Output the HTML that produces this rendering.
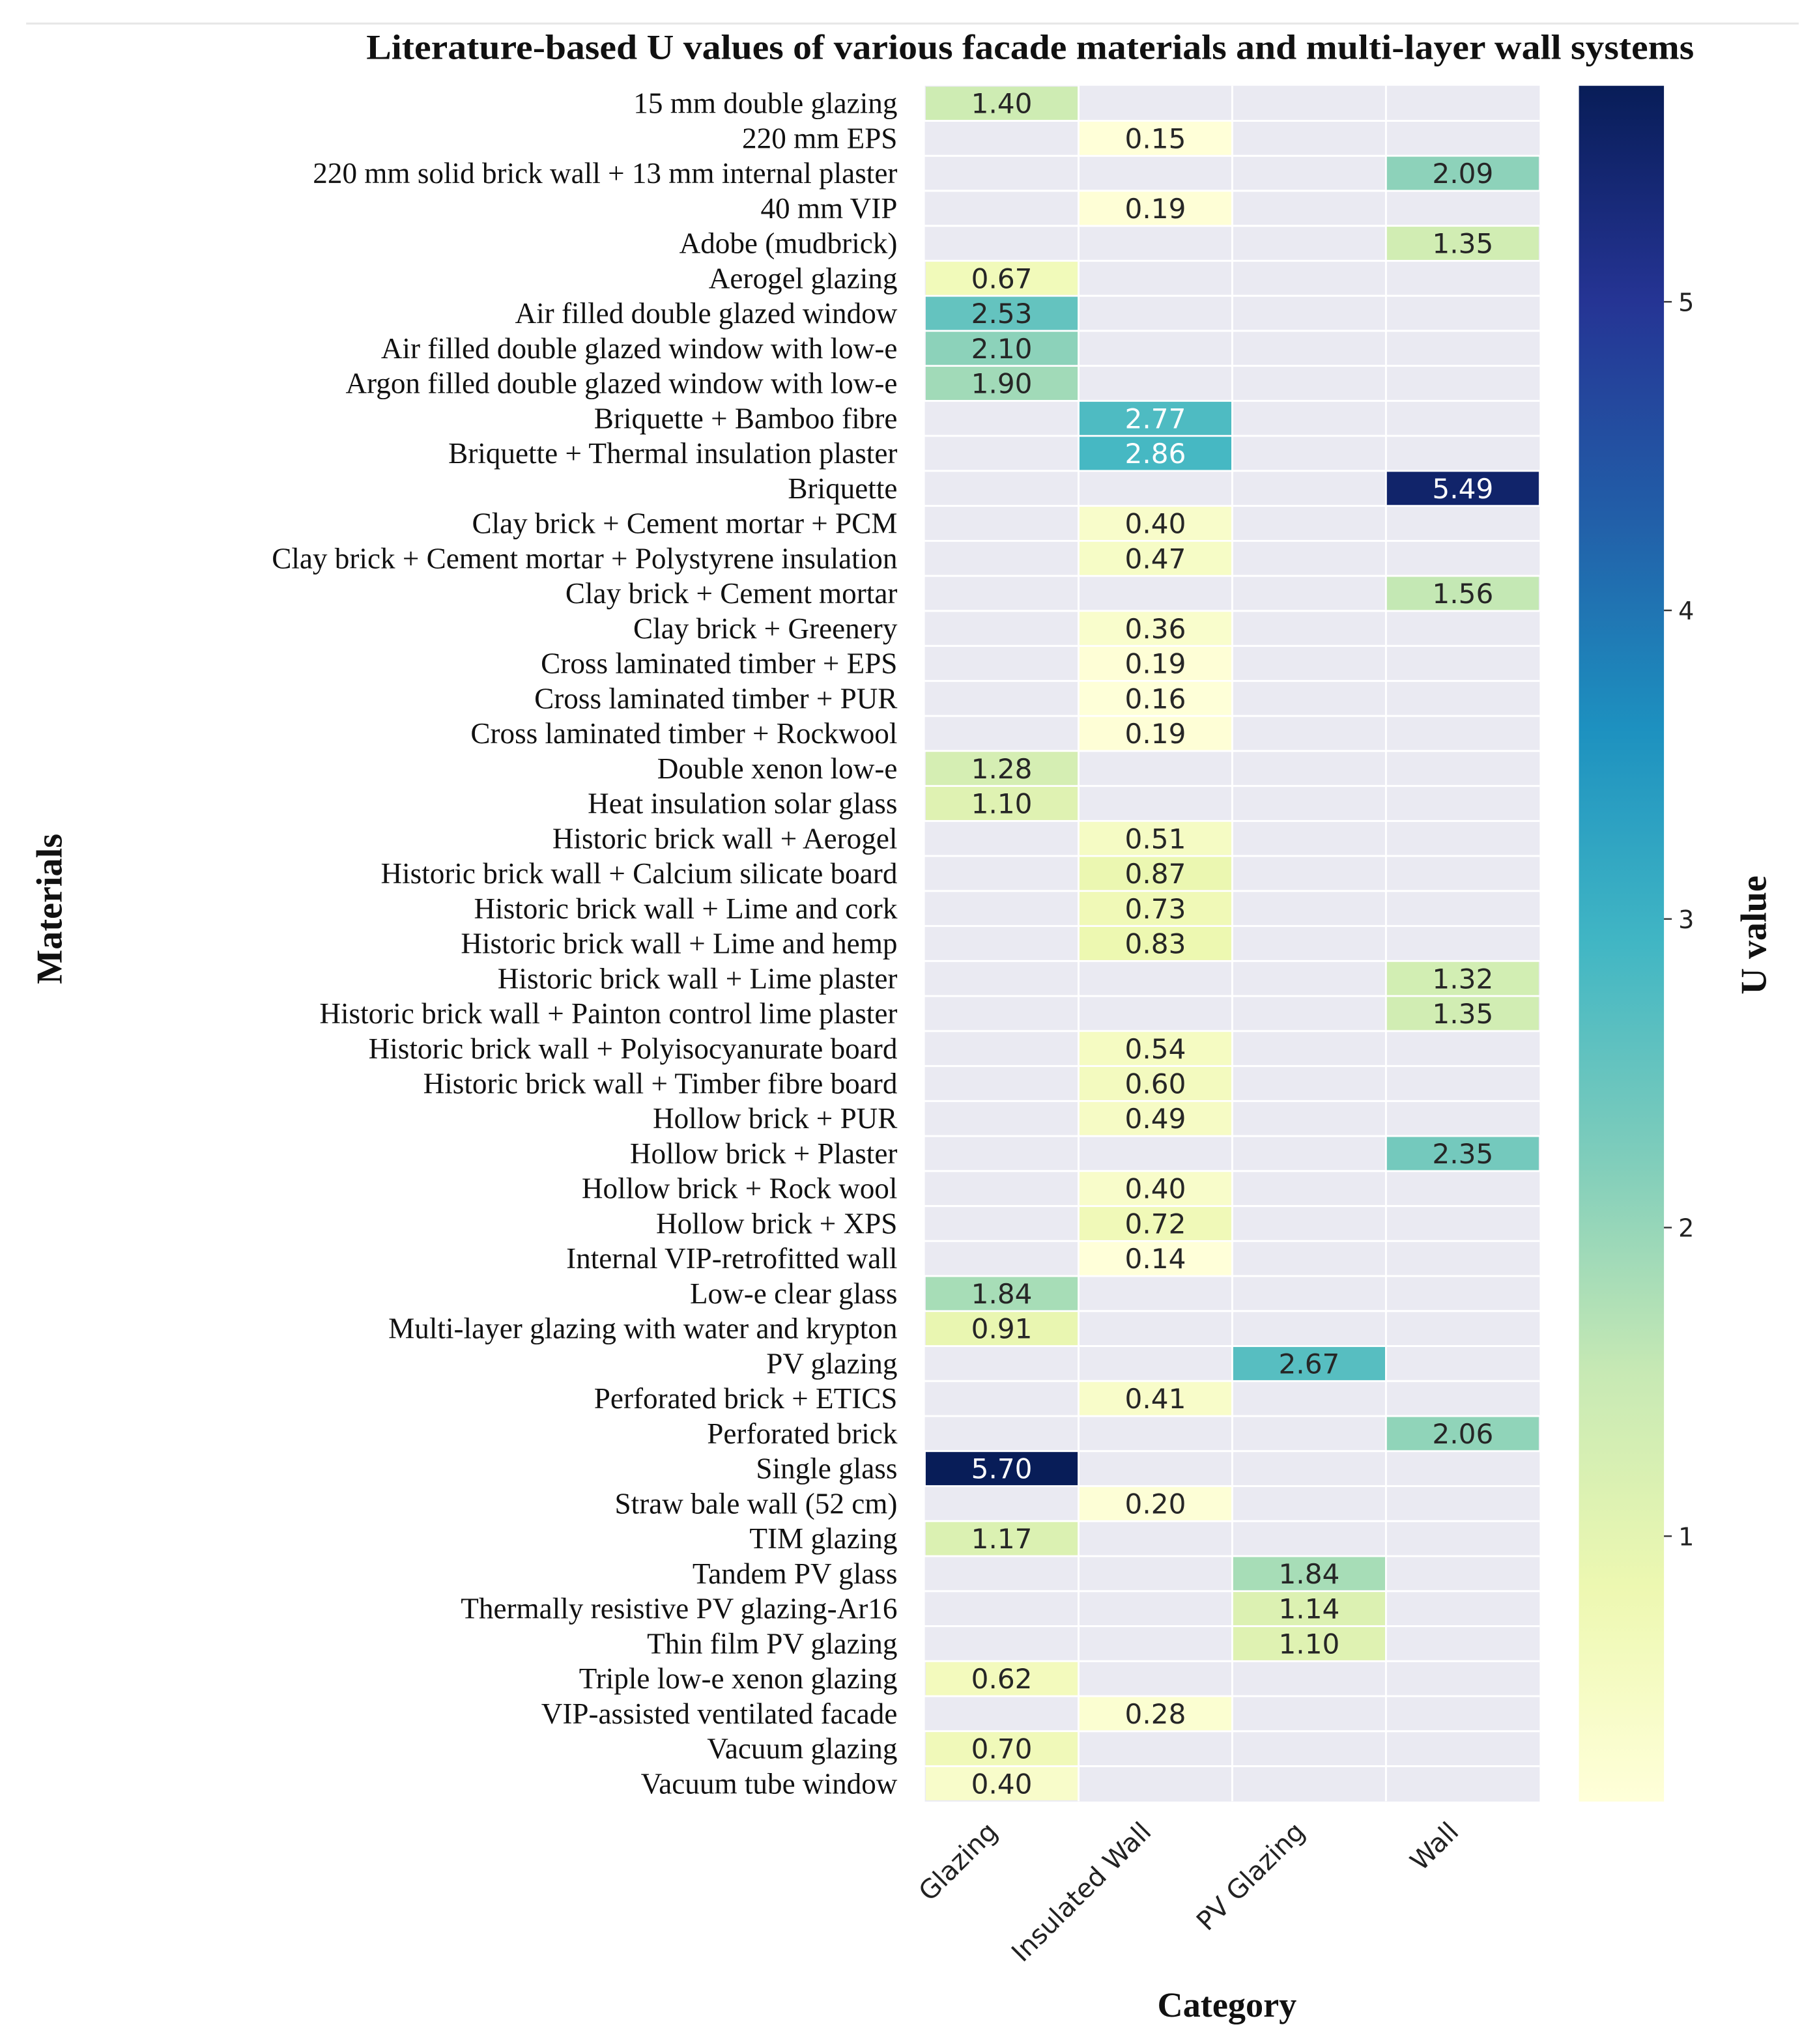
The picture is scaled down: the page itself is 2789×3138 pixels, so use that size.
<!DOCTYPE html>
<html><head><meta charset="utf-8"><style>
html,body{margin:0;padding:0;background:#fff;}
svg{display:block;}
.rl{font-family:"Liberation Serif",serif;font-size:22.5px;fill:#111;}
.an{font-family:"DejaVu Sans","Liberation Sans",sans-serif;font-size:21px;}
.xt{font-family:"DejaVu Sans","Liberation Sans",sans-serif;font-size:20px;fill:#222;}
.ct{font-family:"DejaVu Sans","Liberation Sans",sans-serif;font-size:19px;fill:#222;}
</style></head><body>
<svg id="chart" width="2789" height="3138" viewBox="0 0 1389 1563" preserveAspectRatio="none" xmlns="http://www.w3.org/2000/svg">
<defs>
<linearGradient id="cbg" x1="0" y1="1" x2="0" y2="0">
<stop offset="0" stop-color="#ffffd9"/><stop offset="0.125" stop-color="#edf8b1"/><stop offset="0.25" stop-color="#c7e9b4"/><stop offset="0.375" stop-color="#7fcdbb"/><stop offset="0.5" stop-color="#41b6c4"/><stop offset="0.625" stop-color="#1d91c0"/><stop offset="0.75" stop-color="#225ea8"/><stop offset="0.875" stop-color="#253494"/><stop offset="1" stop-color="#081d58"/>
</linearGradient>
</defs>
<line x1="20" y1="18" x2="1375" y2="18" stroke="#e6e6e6" stroke-width="1.5"/>
<text x="280" y="45" textLength="1015" lengthAdjust="spacingAndGlyphs" font-family="Liberation Serif,serif" font-weight="bold" font-size="27" fill="#111">Literature-based U values of various facade materials and multi-layer wall systems</text>
<text transform="translate(47,695) rotate(-90)" text-anchor="middle" font-family="Liberation Serif,serif" font-weight="bold" font-size="28" fill="#111">Materials</text>
<text x="938" y="1542" text-anchor="middle" font-family="Liberation Serif,serif" font-weight="bold" font-size="27" fill="#111">Category</text>
<text transform="translate(1350,715) rotate(-90)" text-anchor="middle" font-family="Liberation Serif,serif" font-weight="bold" font-size="28" fill="#111">U value</text>
<rect x="707" y="65.6" width="470" height="1312" fill="#eaeaf2"/>
<g id="cells"></g><g id="labels"></g><g id="xticks"></g>
<rect x="1207" y="65.6" width="65" height="1312" fill="url(#cbg)"/>
<g id="cticks"></g>
</svg>
<script>
const categories = ["Glazing","Insulated Wall","PV Glazing","Wall"];
const materials = ["15 mm double glazing","220 mm EPS","220 mm solid brick wall + 13 mm internal plaster","40 mm VIP","Adobe (mudbrick)","Aerogel glazing","Air filled double glazed window","Air filled double glazed window with low-e","Argon filled double glazed window with low-e","Briquette + Bamboo fibre","Briquette + Thermal insulation plaster","Briquette","Clay brick + Cement mortar + PCM","Clay brick + Cement mortar + Polystyrene insulation","Clay brick + Cement mortar","Clay brick + Greenery","Cross laminated timber + EPS","Cross laminated timber + PUR","Cross laminated timber + Rockwool","Double xenon low-e","Heat insulation solar glass","Historic brick wall + Aerogel","Historic brick wall + Calcium silicate board","Historic brick wall + Lime and cork","Historic brick wall + Lime and hemp","Historic brick wall + Lime plaster","Historic brick wall + Painton control lime plaster","Historic brick wall + Polyisocyanurate board","Historic brick wall + Timber fibre board","Hollow brick + PUR","Hollow brick + Plaster","Hollow brick + Rock wool","Hollow brick + XPS","Internal VIP-retrofitted wall","Low-e clear glass","Multi-layer glazing with water and krypton","PV glazing","Perforated brick + ETICS","Perforated brick","Single glass","Straw bale wall (52 cm)","TIM glazing","Tandem PV glass","Thermally resistive PV glazing-Ar16","Thin film PV glazing","Triple low-e xenon glazing","VIP-assisted ventilated facade","Vacuum glazing","Vacuum tube window"];
const materialCategory = [0,1,3,1,3,0,0,0,0,1,1,3,1,1,3,1,1,1,1,0,0,1,1,1,1,3,3,1,1,1,3,1,1,1,0,0,2,1,3,0,1,0,2,2,2,0,1,0,0];
const uValues = [1.40,0.15,2.09,0.19,1.35,0.67,2.53,2.10,1.90,2.77,2.86,5.49,0.40,0.47,1.56,0.36,0.19,0.16,0.19,1.28,1.10,0.51,0.87,0.73,0.83,1.32,1.35,0.54,0.60,0.49,2.35,0.40,0.72,0.14,1.84,0.91,2.67,0.41,2.06,5.70,0.20,1.17,1.84,1.14,1.10,0.62,0.28,0.70,0.40];
const colorTicks = [1,2,3,4,5];
const vmin = 0.14, vmax = 5.70;
const X0=707, CW=117.5, Y0=65.6, RH=26.77, CBY0=65.6, CBH=1312;
const stops=["#ffffd9","#edf8b1","#c7e9b4","#7fcdbb","#41b6c4","#1d91c0","#225ea8","#253494","#081d58"];
function hex(c){return [1,3,5].map(i=>parseInt(c.substr(i,2),16));}
function cmap(v){let t=Math.max(0,Math.min(1,(v-vmin)/(vmax-vmin)))*8;let i=Math.min(7,Math.floor(t));let f=t-i;let a=hex(stops[i]),b=hex(stops[i+1]);return "rgb("+a.map((x,k)=>Math.round(x+(b[k]-x)*f)).join(",")+")";}
function xPos(c){return X0+c*CW;}
function yPos(r){return Y0+r*RH;}
function cbY(v){return CBY0+CBH*(1-(v-vmin)/(vmax-vmin));}
const NS="http://www.w3.org/2000/svg";
function mk(t,a){const e=document.createElementNS(NS,t);for(const k in a)e.setAttribute(k,a[k]);return e;}
const gC=document.getElementById('cells'),gL=document.getElementById('labels'),gX=document.getElementById('xticks'),gT=document.getElementById('cticks');
for(let c=1;c<categories.length;c++){const l=mk('line',{x1:xPos(c),x2:xPos(c),y1:Y0,y2:Y0+RH*materials.length,stroke:'#fff','stroke-width':1.5});

gC.appendChild(l);}
for(let r=1;r<materials.length;r++){const l=mk('line',{x1:X0,x2:X0+4*CW,y1:yPos(r),y2:yPos(r),stroke:'#fff','stroke-width':1.5});

gC.appendChild(l);}
materials.forEach((m,r)=>{
 const c=materialCategory[r],v=uValues[r];
 const rc=mk('rect',{x:xPos(c)+0.7,y:yPos(r)+0.7,width:CW-1.4,height:RH-1.4,fill:cmap(v)});
 
 
 gC.appendChild(rc);
 const tx=mk('text',{x:xPos(c)+CW/2,y:yPos(r)+RH/2+7.5,'text-anchor':'middle','class':'an',fill:v>2.7?'#fff':'#262626'});
 tx.textContent=v.toFixed(2);
 
 
 gC.appendChild(tx);
 const lb=mk('text',{x:686,y:yPos(r)+RH/2+7.5,'text-anchor':'end','class':'rl'});
 lb.textContent=m;
 
 
 gL.appendChild(lb);
});
categories.forEach((c,i)=>{
 const cx=xPos(i)+CW/2-12,cy=1392;
 const t=mk('text',{transform:'translate('+cx+','+cy+') rotate(-45)','text-anchor':'end','class':'xt',dy:'14'});
 t.textContent=c;
 
 
 gX.appendChild(t);
});
colorTicks.forEach(v=>{
 const y=cbY(v);
 const l=mk('line',{x1:1272,x2:1278,y1:y,y2:y,stroke:'#333','stroke-width':1.2});
 
 
 gT.appendChild(l);
 const t=mk('text',{x:1283,y:y+7,'class':'ct'});
 t.textContent=v;
 
 
 gT.appendChild(t);
});
</script>
</body></html>
